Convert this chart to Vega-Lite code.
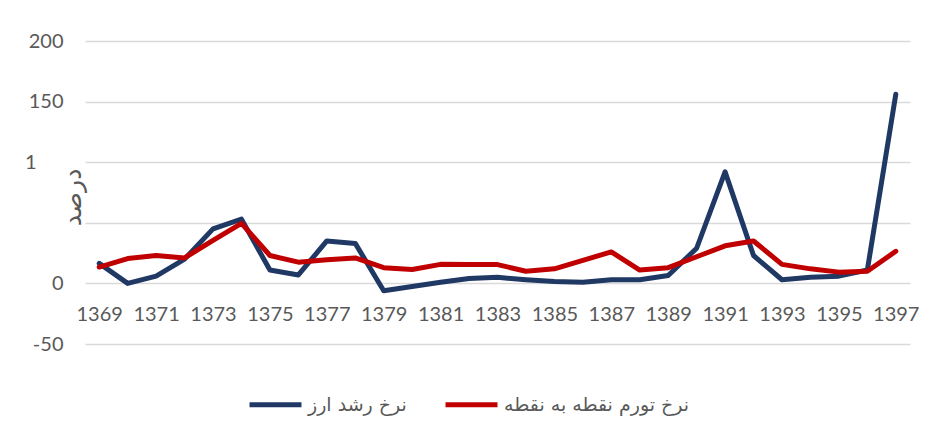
{
  "$schema": "https://vega.github.io/schema/vega-lite/v6.json",
  "width": 825,
  "height": 303,
  "autosize": {"type": "none"},
  "padding": {"left": 85, "top": 41, "right": 27, "bottom": 86},
  "background": "white",
  "data": {
    "values": [
      {"year": 1369, "series": "نرخ رشد ارز", "value": 16.5},
      {"year": 1370, "series": "نرخ رشد ارز", "value": 0},
      {"year": 1371, "series": "نرخ رشد ارز", "value": 6},
      {"year": 1372, "series": "نرخ رشد ارز", "value": 20},
      {"year": 1373, "series": "نرخ رشد ارز", "value": 45},
      {"year": 1374, "series": "نرخ رشد ارز", "value": 53},
      {"year": 1375, "series": "نرخ رشد ارز", "value": 11},
      {"year": 1376, "series": "نرخ رشد ارز", "value": 7},
      {"year": 1377, "series": "نرخ رشد ارز", "value": 35},
      {"year": 1378, "series": "نرخ رشد ارز", "value": 33},
      {"year": 1379, "series": "نرخ رشد ارز", "value": -6},
      {"year": 1380, "series": "نرخ رشد ارز", "value": -2.5},
      {"year": 1381, "series": "نرخ رشد ارز", "value": 1},
      {"year": 1382, "series": "نرخ رشد ارز", "value": 4},
      {"year": 1383, "series": "نرخ رشد ارز", "value": 5},
      {"year": 1384, "series": "نرخ رشد ارز", "value": 3},
      {"year": 1385, "series": "نرخ رشد ارز", "value": 1.5},
      {"year": 1386, "series": "نرخ رشد ارز", "value": 1},
      {"year": 1387, "series": "نرخ رشد ارز", "value": 3},
      {"year": 1388, "series": "نرخ رشد ارز", "value": 3},
      {"year": 1389, "series": "نرخ رشد ارز", "value": 6.5},
      {"year": 1390, "series": "نرخ رشد ارز", "value": 29},
      {"year": 1391, "series": "نرخ رشد ارز", "value": 92},
      {"year": 1392, "series": "نرخ رشد ارز", "value": 23},
      {"year": 1393, "series": "نرخ رشد ارز", "value": 3},
      {"year": 1394, "series": "نرخ رشد ارز", "value": 5},
      {"year": 1395, "series": "نرخ رشد ارز", "value": 6},
      {"year": 1396, "series": "نرخ رشد ارز", "value": 11},
      {"year": 1397, "series": "نرخ رشد ارز", "value": 156},
      {"year": 1369, "series": "نرخ تورم نقطه به نقطه", "value": 13.5},
      {"year": 1370, "series": "نرخ تورم نقطه به نقطه", "value": 20.5},
      {"year": 1371, "series": "نرخ تورم نقطه به نقطه", "value": 23},
      {"year": 1372, "series": "نرخ تورم نقطه به نقطه", "value": 21},
      {"year": 1373, "series": "نرخ تورم نقطه به نقطه", "value": 35.5},
      {"year": 1374, "series": "نرخ تورم نقطه به نقطه", "value": 49.5},
      {"year": 1375, "series": "نرخ تورم نقطه به نقطه", "value": 23},
      {"year": 1376, "series": "نرخ تورم نقطه به نقطه", "value": 17.5},
      {"year": 1377, "series": "نرخ تورم نقطه به نقطه", "value": 19.5},
      {"year": 1378, "series": "نرخ تورم نقطه به نقطه", "value": 21},
      {"year": 1379, "series": "نرخ تورم نقطه به نقطه", "value": 13},
      {"year": 1380, "series": "نرخ تورم نقطه به نقطه", "value": 11.5},
      {"year": 1381, "series": "نرخ تورم نقطه به نقطه", "value": 15.7},
      {"year": 1382, "series": "نرخ تورم نقطه به نقطه", "value": 15.5},
      {"year": 1383, "series": "نرخ تورم نقطه به نقطه", "value": 15.5},
      {"year": 1384, "series": "نرخ تورم نقطه به نقطه", "value": 10},
      {"year": 1385, "series": "نرخ تورم نقطه به نقطه", "value": 12},
      {"year": 1386, "series": "نرخ تورم نقطه به نقطه", "value": 19},
      {"year": 1387, "series": "نرخ تورم نقطه به نقطه", "value": 26},
      {"year": 1388, "series": "نرخ تورم نقطه به نقطه", "value": 11},
      {"year": 1389, "series": "نرخ تورم نقطه به نقطه", "value": 13},
      {"year": 1390, "series": "نرخ تورم نقطه به نقطه", "value": 22},
      {"year": 1391, "series": "نرخ تورم نقطه به نقطه", "value": 31},
      {"year": 1392, "series": "نرخ تورم نقطه به نقطه", "value": 35},
      {"year": 1393, "series": "نرخ تورم نقطه به نقطه", "value": 15.7},
      {"year": 1394, "series": "نرخ تورم نقطه به نقطه", "value": 12},
      {"year": 1395, "series": "نرخ تورم نقطه به نقطه", "value": 9.3},
      {"year": 1396, "series": "نرخ تورم نقطه به نقطه", "value": 10},
      {"year": 1397, "series": "نرخ تورم نقطه به نقطه", "value": 26.5}
    ]
  },
  "mark": {"type": "line", "strokeWidth": 5, "strokeJoin": "round", "strokeCap": "round"},
  "encoding": {
    "x": {
      "field": "year",
      "type": "ordinal",
      "scale": {"type": "point", "padding": 0.5},
      "axis": {
        "title": null,
        "values": [1369, 1371, 1373, 1375, 1377, 1379, 1381, 1383, 1385, 1387, 1389, 1391, 1393, 1395, 1397],
        "labelAngle": 0,
        "domain": false,
        "ticks": false,
        "grid": false,
        "offset": -61,
        "labelPadding": 21,
        "labelFontSize": 20,
        "labelColor": "#595959",
        "labelFont": "Lato"
      }
    },
    "y": {
      "field": "value",
      "type": "quantitative",
      "scale": {"domain": [-50, 200], "nice": false, "zero": false},
      "axis": {
        "title": "درصد",
        "titleFont": "DejaVu Sans",
        "titleFontSize": 25,
        "titleFontWeight": "normal",
        "titleColor": "#595959",
        "titleX": -13,
        "titleY": 156,
        "titleAlign": "center",
        "titleBaseline": "middle",
        "titleAngle": -90,
        "values": [-50, 0, 50, 100, 150, 200],
        "labelExpr": "datum.value == 100 ? '1' : datum.value == 50 ? '' : datum.value == -50 ? '-50' : datum.label",
        "domain": false,
        "ticks": false,
        "labelPadding": {"condition": {"test": "datum.value == 100", "value": 49}, "value": 22},
        "labelFontSize": 20,
        "labelColor": "#595959",
        "labelFont": "Lato",
        "gridColor": "#D9D9D9",
        "gridWidth": 1.5
      }
    },
    "color": {
      "field": "series",
      "type": "nominal",
      "scale": {
        "domain": ["نرخ رشد ارز", "نرخ تورم نقطه به نقطه"],
        "range": ["#203864", "#C00000"]
      },
      "legend": {
        "title": null,
        "orient": "none",
        "direction": "horizontal",
        "legendX": 162,
        "legendY": 335,
        "symbolType": "stroke",
        "symbolSize": 2700,
        "symbolStrokeWidth": 5,
        "labelFontSize": 19,
        "labelLimit": 400,
        "labelFont": "DejaVu Sans",
        "labelColor": "#595959",
        "labelOffset": 4,
        "columnPadding": 28
      }
    }
  },
  "config": {"view": {"stroke": null}}
}
